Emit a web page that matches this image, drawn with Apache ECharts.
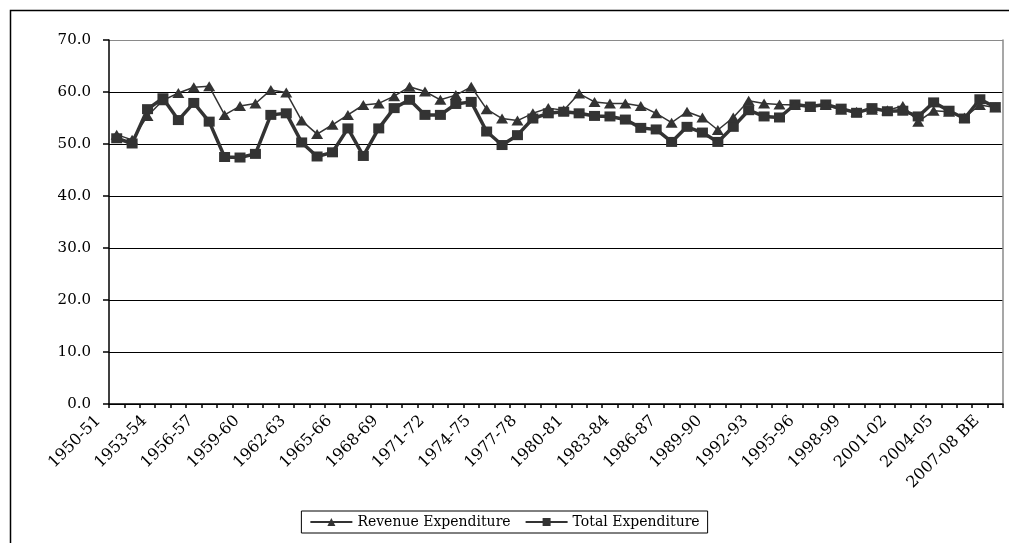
<!DOCTYPE html>
<html>
<head>
<meta charset="utf-8">
<script src="https://cdn.jsdelivr.net/npm/echarts@6/dist/echarts.min.js"></script>
<style>
html,body{margin:0;padding:0;background:#fff;}
#chart{width:1009px;height:543px;}
</style>
</head>
<body>
<div id="chart"></div>
<script>
const categories = ["1950-51","1951-52","1952-53","1953-54","1954-55","1955-56","1956-57","1957-58","1958-59","1959-60",
"1960-61","1961-62","1962-63","1963-64","1964-65","1965-66","1966-67","1967-68","1968-69","1969-70",
"1970-71","1971-72","1972-73","1973-74","1974-75","1975-76","1976-77","1977-78","1978-79","1979-80",
"1980-81","1981-82","1982-83","1983-84","1984-85","1985-86","1986-87","1987-88","1988-89","1989-90",
"1990-91","1991-92","1992-93","1993-94","1994-95","1995-96","1996-97","1997-98","1998-99","1999-00",
"2000-01","2001-02","2002-03","2003-04","2004-05","2005-06","2006-07","2007-08 BE"];

const revenueExpenditure = [51.8,50.8,55.4,58.4,59.8,60.9,61.1,55.6,57.3,57.8,
60.4,59.9,54.5,51.9,53.7,55.6,57.5,57.8,59.2,61.0,
60.1,58.5,59.4,61.0,56.7,54.9,54.5,55.9,56.9,56.5,
59.7,58.1,57.8,57.8,57.3,55.9,54.1,56.2,55.1,52.7,
55.1,58.3,57.8,57.6,57.5,57.1,57.5,56.6,56.2,56.6,
56.5,57.3,54.3,56.4,56.2,55.1,57.5,57.0];

const totalExpenditure = [51.1,50.1,56.7,58.8,54.6,57.9,54.3,47.5,47.4,48.1,
55.6,55.9,50.3,47.6,48.4,53.0,47.7,53.0,56.9,58.5,
55.6,55.6,57.7,58.1,52.4,49.8,51.7,54.9,55.9,56.2,
55.9,55.4,55.3,54.7,53.1,52.8,50.4,53.3,52.2,50.4,
53.3,56.5,55.3,55.1,57.6,57.2,57.6,56.8,56.0,56.9,
56.3,56.4,55.3,58.0,56.4,54.9,58.6,57.1];

const yTicks = [0,10,20,30,40,50,60,70];

const chart = echarts.init(document.getElementById('chart'), null, {renderer:'canvas'});
const serif = 'DejaVu Serif';
const ink = '#333333';

chart.setOption({
  animation:false,
  backgroundColor:'#ffffff',
  graphic:[{
    type:'rect', z:-1,
    shape:{x:10.5,y:10.5,width:1100,height:600},
    style:{fill:null, stroke:'#000', lineWidth:1.5}
  }],
  grid:{left:109,right:6,top:40,bottom:139},
  legend:{
    left:'center', top:511,
    orient:'horizontal',
    itemWidth:42, itemHeight:10, itemGap:14,
    borderColor:'#000', borderWidth:1, borderRadius:0,
    padding:[4,8,4,8],
    textStyle:{fontFamily:serif,fontSize:14,color:'#000'},
    data:['Revenue Expenditure','Total Expenditure']
  },
  xAxis:{
    type:'category',
    data:categories,
    boundaryGap:true,
    axisLine:{lineStyle:{color:'#000',width:1.5}},
    axisTick:{show:true,interval:0,length:4,lineStyle:{color:'#000',width:1.5}},
    axisLabel:{interval:2,rotate:45,margin:-4,padding:[0,26,0,0],fontFamily:serif,fontSize:16,color:'#000'},
    splitLine:{show:false}
  },
  yAxis:[{
    type:'value',
    min:0,max:70,interval:10,
    axisLine:{show:true,lineStyle:{color:'#000',width:1.5}},
    axisTick:{show:true,length:6,lineStyle:{color:'#000',width:1.5}},
    axisLabel:{margin:18,fontFamily:serif,fontSize:15,color:'#000',
      formatter:v=>yTicks.includes(v)?v.toFixed(1):''},
    splitLine:{show:true,lineStyle:{color:['#000','#000','#000','#000','#000','#000','#000','#8a8a8a'],width:1}}
  },{
    type:'value',position:'right',
    min:0,max:70,interval:10,
    axisLine:{show:true,lineStyle:{color:'#8a8a8a',width:1.5}},
    axisTick:{show:false},axisLabel:{show:false},splitLine:{show:false}
  }],
  series:[{
    name:'Revenue Expenditure',
    type:'line',
    data:revenueExpenditure,
    symbol:'triangle',symbolSize:[12,10],
    itemStyle:{color:ink},
    lineStyle:{color:ink,width:1.5},
    z:3
  },{
    name:'Total Expenditure',
    type:'line',
    data:totalExpenditure,
    symbol:'rect',symbolSize:[11,10],
    itemStyle:{color:ink},
    lineStyle:{color:ink,width:3.5},
    z:2
  }]
});
</script>
</body>
</html>
